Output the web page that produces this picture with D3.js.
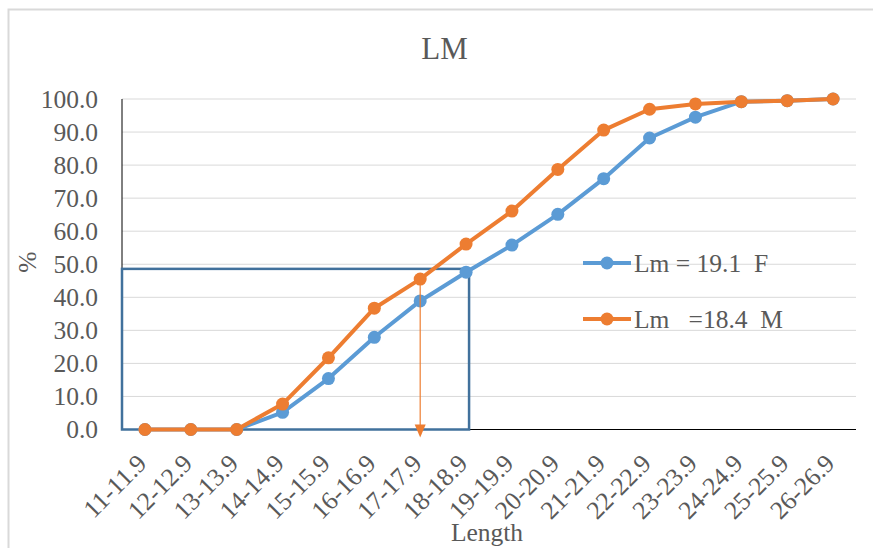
<!DOCTYPE html>
<html>
<head>
<meta charset="utf-8">
<script src="https://cdn.jsdelivr.net/npm/d3@7/dist/d3.min.js"></script>
<style>
  html, body { margin: 0; padding: 0; background: #fff; }
  svg text { font-family: "Liberation Serif", "Times New Roman", serif; fill: #595959; }
</style>
</head>
<body>
<svg id="chart" width="873" height="548"></svg>
<script>
// Length classes (cm)
const categories = ["11-11.9","12-12.9","13-13.9","14-14.9","15-15.9","16-16.9","17-17.9","18-18.9",
  "19-19.9","20-20.9","21-21.9","22-22.9","23-23.9","24-24.9","25-25.9","26-26.9"];
// Cumulative maturity percentage, females and males
const female = [0, 0, 0, 5.2, 15.4, 27.9, 38.9, 47.6, 55.8, 65.1, 75.9, 88.2, 94.5, 99.2, 99.5, 100];
const male   = [0, 0, 0, 7.7, 21.7, 36.7, 45.5, 56.1, 66.1, 78.7, 90.6, 96.9, 98.5, 99.2, 99.5, 100];
const yTicks = [0, 10, 20, 30, 40, 50, 60, 70, 80, 90, 100];
const seriesNames = ["Lm = 19.1  F", "Lm   =18.4  M"];
// Length at 50% maturity markers
const femaleLmLevel = 48.6;
const femaleLmClass = "18-18.9";
const maleLmClass = "17-17.9";

const colors = { female: "#5b9bd5", male: "#ed7d31" };

const svg = d3.select("#chart");
const plotLeft = 122, plotRight = 856, plotTop = 99, plotBottom = 429.5;

// chart frame
svg.append("rect").attr("x", 8.5).attr("y", 9.5).attr("width", 900).attr("height", 600)
  .attr("fill", "none").attr("stroke", "#d9d9d9").attr("stroke-width", 2);

const x = d3.scalePoint().domain(categories).range([plotLeft, plotRight]).padding(0.5);
const y = d3.scaleLinear().domain([0, 100]).range([plotBottom, plotTop]);

// gridlines
svg.append("g").selectAll("line").data(yTicks.slice(1)).join("line")
  .attr("x1", plotLeft).attr("x2", plotRight)
  .attr("y1", d => y(d)).attr("y2", d => y(d))
  .attr("stroke", "#d9d9d9").attr("stroke-width", 1);

// axis lines
svg.append("line").attr("x1", plotLeft).attr("x2", plotLeft).attr("y1", plotTop).attr("y2", plotBottom)
  .attr("stroke", "#000").attr("stroke-width", 1);
svg.append("line").attr("x1", plotLeft).attr("x2", plotRight).attr("y1", plotBottom).attr("y2", plotBottom)
  .attr("stroke", "#000").attr("stroke-width", 1);

// y tick labels
svg.append("g").selectAll("text").data(yTicks).join("text")
  .attr("x", 98).attr("y", d => y(d)).attr("dy", "0.34em")
  .attr("text-anchor", "end").attr("font-size", 25.5)
  .text(d => d.toFixed(1));

// x tick labels
svg.append("g").selectAll("text").data(categories).join("text")
  .attr("text-anchor", "end").attr("font-size", 25.5)
  .attr("transform", d => `translate(${x(d) + 3},${465}) rotate(-45)`)
  .text(d => d);

// titles
svg.append("text").attr("x", 444.5).attr("y", 59).attr("text-anchor", "middle")
  .attr("font-size", 31).text("LM");
svg.append("text").attr("x", 487).attr("y", 541).attr("text-anchor", "middle")
  .attr("font-size", 25.5).text("Length");
svg.append("text").attr("transform", "translate(36,262) rotate(-90)").attr("text-anchor", "middle")
  .attr("font-size", 25.5).text("%");

// female Lm box
svg.append("rect")
  .attr("x", plotLeft).attr("y", y(femaleLmLevel))
  .attr("width", x(femaleLmClass) + 3 - plotLeft).attr("height", plotBottom - y(femaleLmLevel))
  .attr("fill", "none").attr("stroke", "#41719c").attr("stroke-width", 2.5);

// series
const line = d3.line().x((d, i) => x(categories[i])).y(d => y(d));
function drawSeries(values, color) {
  const g = svg.append("g");
  g.append("path").datum(values).attr("d", line)
    .attr("fill", "none").attr("stroke", color).attr("stroke-width", 4)
    .attr("stroke-linejoin", "round");
  g.selectAll("circle").data(values).join("circle")
    .attr("cx", (d, i) => x(categories[i])).attr("cy", d => y(d)).attr("r", 6.5)
    .attr("fill", color);
}
drawSeries(female, colors.female);
drawSeries(male, colors.male);

// male Lm arrow
const mi = categories.indexOf(maleLmClass);
const ax = x(maleLmClass);
svg.append("line").attr("x1", ax).attr("x2", ax).attr("y1", y(male[mi])).attr("y2", y(0) - 4)
  .attr("stroke", colors.male).attr("stroke-width", 1.2);
svg.append("path")
  .attr("d", `M${ax - 5.5},${y(0) - 5} L${ax + 5.5},${y(0) - 5} L${ax},${y(0) + 8} Z`)
  .attr("fill", colors.male);

// legend
const legendY = [263, 319];
const legendColors = [colors.female, colors.male];
const lg = svg.append("g");
seriesNames.forEach((name, i) => {
  lg.append("line").attr("x1", 583).attr("x2", 631).attr("y1", legendY[i]).attr("y2", legendY[i])
    .attr("stroke", legendColors[i]).attr("stroke-width", 4);
  lg.append("circle").attr("cx", 607).attr("cy", legendY[i]).attr("r", 6.5).attr("fill", legendColors[i]);
  lg.append("text").attr("x", 634).attr("y", legendY[i]).attr("dy", "0.34em")
    .attr("font-size", 25.5).style("white-space", "pre").text(name);
});
</script>
</body>
</html>
